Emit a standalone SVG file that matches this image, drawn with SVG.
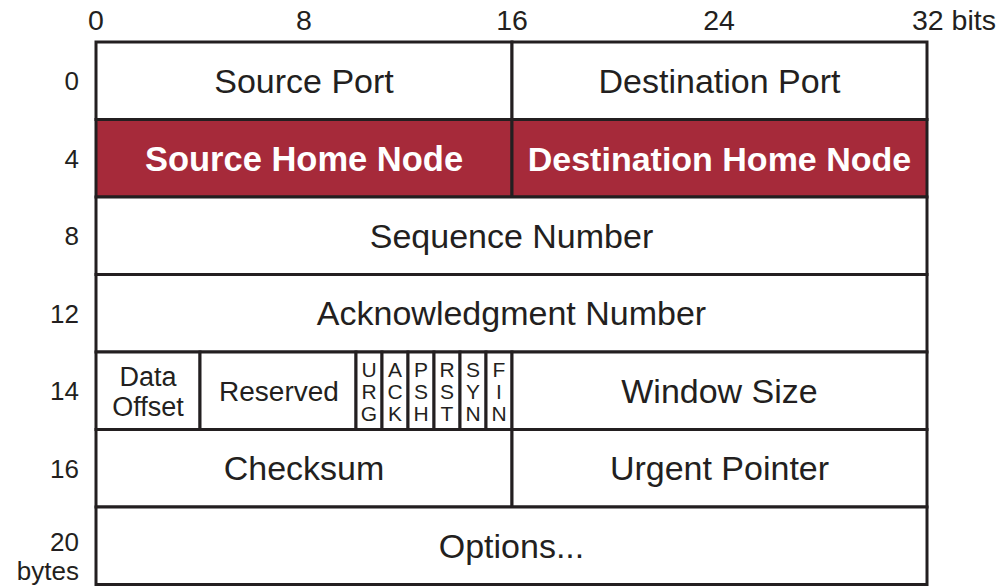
<svg xmlns="http://www.w3.org/2000/svg" width="1000" height="586" viewBox="0 0 1000 586">
<style>
.cell{fill:#ffffff;stroke:#231f20;stroke-width:3}
.hl{fill:#a62a3a;stroke:#231f20;stroke-width:3}
text{font-family:"Liberation Sans",Arial,sans-serif;fill:#231f20}
.lbl{font-size:34px;text-anchor:middle}
.hlt{font-size:34.5px;font-weight:bold;fill:#ffffff;text-anchor:middle}
.ax{font-size:28.5px}
.ay{font-size:26px;text-anchor:end}
.sm{font-size:27px;text-anchor:middle}
.fl{font-size:21px;text-anchor:middle}
</style>
<rect x="0" y="0" width="1000" height="586" fill="#ffffff"/>
<g id="axis-bits">
<text class="ax" x="96" y="30" text-anchor="middle">0</text>
<text class="ax" x="304" y="30" text-anchor="middle">8</text>
<text class="ax" x="512" y="30" text-anchor="middle">16</text>
<text class="ax" x="719" y="30" text-anchor="middle">24</text>
<text class="ax" x="912" y="30">32 bits</text>
</g>
<g id="axis-bytes">
<text class="ay" x="79" y="90">0</text>
<text class="ay" x="79" y="168">4</text>
<text class="ay" x="79" y="245">8</text>
<text class="ay" x="79" y="323">12</text>
<text class="ay" x="79" y="400">14</text>
<text class="ay" x="79" y="478">16</text>
<text class="ay" x="79" y="551">20</text>
<text class="ay" x="79" y="580">bytes</text>
</g>
<g id="source-port"><rect class="cell" x="96" y="42" width="416" height="77.5"/><text class="lbl" x="304" y="92.5">Source Port</text></g>
<g id="destination-port"><rect class="cell" x="512" y="42" width="415" height="77.5"/><text class="lbl" x="719.5" y="92.5">Destination Port</text></g>
<g id="source-home-node"><rect class="hl" x="96" y="119.5" width="416" height="77.5"/><text class="hlt" x="304" y="170.5">Source Home Node</text></g>
<g id="destination-home-node"><rect class="hl" x="512" y="119.5" width="415" height="77.5"/><text class="hlt" x="719.5" y="170.5" style="font-size:34px">Destination Home Node</text></g>
<g id="sequence-number"><rect class="cell" x="96" y="197" width="831" height="77.5"/><text class="lbl" x="511.5" y="247.5">Sequence Number</text></g>
<g id="acknowledgment-number"><rect class="cell" x="96" y="274.5" width="831" height="77.5"/><text class="lbl" x="511.5" y="325">Acknowledgment Number</text></g>
<g id="data-offset"><rect class="cell" x="96" y="352" width="104" height="77.5"/><text class="sm" x="148" y="386">Data</text><text class="sm" x="148" y="416">Offset</text></g>
<g id="reserved"><rect class="cell" x="200" y="352" width="156" height="77.5"/><text class="sm" x="279" y="401" style="font-size:28px">Reserved</text></g>
<g id="flag-urg"><rect class="cell" x="356" y="352" width="26" height="77.5"/><text class="fl" x="369" y="377">U</text><text class="fl" x="369" y="399">R</text><text class="fl" x="369" y="421">G</text></g>
<g id="flag-ack"><rect class="cell" x="382" y="352" width="26" height="77.5"/><text class="fl" x="395" y="377">A</text><text class="fl" x="395" y="399">C</text><text class="fl" x="395" y="421">K</text></g>
<g id="flag-psh"><rect class="cell" x="408" y="352" width="26" height="77.5"/><text class="fl" x="421" y="377">P</text><text class="fl" x="421" y="399">S</text><text class="fl" x="421" y="421">H</text></g>
<g id="flag-rst"><rect class="cell" x="434" y="352" width="26" height="77.5"/><text class="fl" x="447" y="377">R</text><text class="fl" x="447" y="399">S</text><text class="fl" x="447" y="421">T</text></g>
<g id="flag-syn"><rect class="cell" x="460" y="352" width="26" height="77.5"/><text class="fl" x="473" y="377">S</text><text class="fl" x="473" y="399">Y</text><text class="fl" x="473" y="421">N</text></g>
<g id="flag-fin"><rect class="cell" x="486" y="352" width="26" height="77.5"/><text class="fl" x="499" y="377">F</text><text class="fl" x="499" y="399">I</text><text class="fl" x="499" y="421">N</text></g>
<g id="window-size"><rect class="cell" x="512" y="352" width="415" height="77.5"/><text class="lbl" x="719.5" y="402.5">Window Size</text></g>
<g id="checksum"><rect class="cell" x="96" y="429.5" width="416" height="77.5"/><text class="lbl" x="304" y="480">Checksum</text></g>
<g id="urgent-pointer"><rect class="cell" x="512" y="429.5" width="415" height="77.5"/><text class="lbl" x="719.5" y="480">Urgent Pointer</text></g>
<g id="options"><rect class="cell" x="96" y="507" width="831" height="77.5"/><text class="lbl" x="511.5" y="557.5">Options...</text></g>
<g id="connectors"></g>
</svg>
